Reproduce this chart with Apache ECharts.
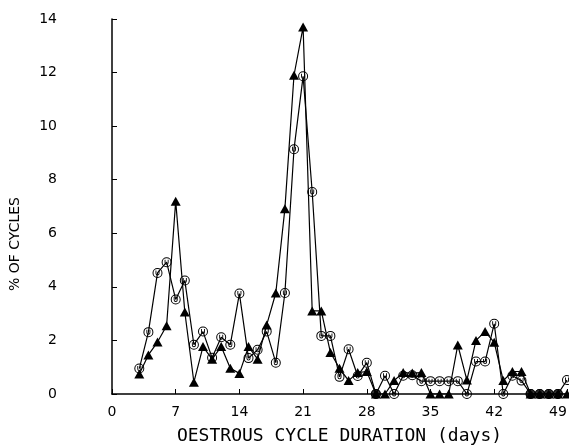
<!DOCTYPE html>
<html>
<head>
<meta charset="utf-8">
<script src="https://cdn.jsdelivr.net/npm/echarts@6/dist/echarts.min.js"></script>
<style>
  html, body { margin: 0; padding: 0; background: #fff; }
  #main { width: 569px; height: 446px; }
</style>
</head>
<body>
<div id="main"></div>
<script>
// Cycle length in days
const days = [3, 4, 5, 6, 7, 8, 9, 10, 11, 12, 13, 14, 15, 16, 17, 18, 19, 20, 21, 22, 23, 24, 25, 26,
  27, 28, 29, 30, 31, 32, 33, 34, 35, 36, 37, 38, 39, 40, 41, 42, 43, 44, 45, 46, 47, 48, 49, 50];

// % of cycles, triangle series
const trianglePct = [0.75, 1.46, 1.94, 2.55, 7.2, 3.06, 0.44, 1.77, 1.3, 1.77, 0.96, 0.77, 1.77, 1.3,
  2.58, 3.77, 6.92, 11.9, 13.7, 3.1, 3.1, 1.55, 0.96, 0.5, 0.8, 0.84, 0, 0, 0.5, 0.8, 0.78, 0.8,
  0, 0, 0, 1.83, 0.52, 2.0, 2.33, 1.93, 0.5, 0.84, 0.84, 0, 0, 0, 0, 0];

// % of cycles, open circle series
const circlePct = [0.95, 2.31, 4.52, 4.92, 3.53, 4.24, 1.84, 2.33, 1.35, 2.12, 1.84, 3.75, 1.34, 1.65,
  2.33, 1.17, 3.77, 9.14, 11.86, 7.54, 2.17, 2.17, 0.64, 1.67, 0.67, 1.17, 0, 0.68, 0, 0.68, 0.7, 0.48,
  0.48, 0.48, 0.48, 0.48, 0, 1.21, 1.21, 2.62, 0, 0.68, 0.5, 0, 0, 0, 0, 0.52];

// days where both groups are at zero (drawn as a solid dot)
const bothZeroDays = [29, 46, 47, 48, 49];

const xTicks = [0, 7, 14, 21, 28, 35, 42, 49];
const yTicks = [0, 2, 4, 6, 8, 10, 12, 14];

// open circle with a little "U" inside
const ringU = "path://M10 0A10 10 0 1 1 10 20A10 10 0 1 1 10 0ZM10 2A8 8 0 1 0 10 18A8 8 0 1 0 10 2Z" +
  "M6 5L6 11A4 4 0 0 0 14 11L14 5L12.2 5L12.2 11A2.2 2.2 0 0 1 7.8 11L7.8 5Z";

const chart = echarts.init(document.getElementById("main"), null, { renderer: "canvas" });

const axisFont = { color: "#000", fontFamily: "DejaVu Sans", fontSize: 14 };

chart.setOption({
  animation: false,
  backgroundColor: "#fff",
  grid: { left: 112, right: 2, top: 19, bottom: 52, containLabel: false, outerBoundsMode: "none" },
  // y title sits lower than the axis middle in the original
  graphic: [
    {
      type: "text",
      x: 15,
      y: 244,
      rotation: Math.PI / 2,
      style: {
        text: "% OF CYCLES",
        fill: "#000",
        font: "14px 'DejaVu Sans'",
        textAlign: "center",
        textVerticalAlign: "middle"
      }
    }
  ],
  xAxis: {
    type: "value",
    min: 0,
    max: 50,
    interval: 7,
    name: "OESTROUS CYCLE DURATION (days)",
    nameLocation: "middle",
    nameGap: 33,
    nameTextStyle: { color: "#000", fontFamily: "DejaVu Sans Mono", fontSize: 18 },
    axisLine: { lineStyle: { color: "#000", width: 1.5 } },
    axisTick: { inside: true, length: 5, lineStyle: { color: "#000" } },
    axisLabel: Object.assign({ margin: 11, formatter: (v) => (xTicks.includes(v) ? String(v) : "") }, axisFont),
    splitLine: { show: false }
  },
  yAxis: {
    type: "value",
    min: 0,
    max: 14,
    interval: 2,
    axisLine: { show: true, lineStyle: { color: "#000", width: 1.5 } },
    axisTick: { show: true, inside: true, length: 5, lineStyle: { color: "#000" } },
    axisLabel: Object.assign({
      margin: 55,
      padding: [0, 0, 8, 0],
      formatter: (v) => (yTicks.includes(v) ? String(v) : "")
    }, axisFont),
    splitLine: { show: false }
  },
  series: [
    {
      name: "triangles",
      type: "line",
      data: days.map((d, i) => [d, trianglePct[i]]),
      symbol: "triangle",
      symbolSize: [10, 9],
      lineStyle: { color: "#000", width: 1.2 },
      itemStyle: { color: "#000" },
      z: 3
    },
    {
      name: "circles",
      type: "line",
      data: days.map((d, i) => [d, circlePct[i]]),
      symbol: ringU,
      symbolSize: 10,
      lineStyle: { color: "#000", width: 1.2 },
      itemStyle: { color: "#000" },
      z: 4
    },
    {
      name: "both zero",
      type: "scatter",
      data: bothZeroDays.map((d) => [d, 0]),
      symbol: "circle",
      symbolSize: 10,
      itemStyle: { color: "#000" },
      z: 5
    }
  ]
});
</script>
</body>
</html>
